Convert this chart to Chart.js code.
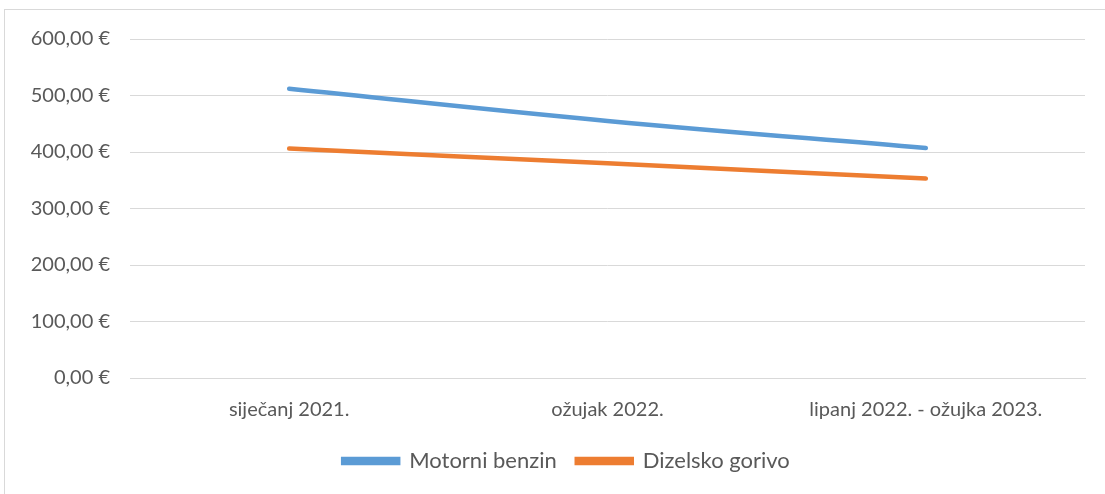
<!DOCTYPE html>
<html>
<head>
<meta charset="utf-8">
<script src="https://cdn.jsdelivr.net/npm/chart.js@4"></script>
<style>
  html, body { margin: 0; padding: 0; background: #fff; }
  #wrap { width: 1105px; height: 494px; }
</style>
</head>
<body>
<div id="wrap"><canvas id="grafik" width="1105" height="494"></canvas></div>
<script>
const CATEGORIES = ['siječanj 2021.', 'ožujak 2022.', 'lipanj 2022. - ožujka 2023.'];
const BENZIN = [512, 455, 407];
const DIZEL = [406, 380, 353];
const Y_TICKS = [0, 100, 200, 300, 400, 500, 600];

const TEXT = '#595959';
const GRID = '#d9d9d9';

// okvir oko grafikona, kao u Excelu
const frame = {
    id: 'frame',
    beforeDraw(chart) {
        const ctx = chart.ctx;
        ctx.save();
        ctx.fillStyle = '#fff';
        ctx.fillRect(0, 0, chart.width, chart.height);
        ctx.strokeStyle = GRID;
        ctx.lineWidth = 1;
        ctx.strokeRect(4.5, 9.5, chart.width + 10, chart.height + 10);
        ctx.restore();
    }
};

// legenda malo udesno
const legendShift = {
    id: 'legendShift',
    afterLayout(chart) {
        chart.legend.left += 22;
        chart.legend.right += 22;
    }
};

Chart.defaults.font.family = 'Lato, "Open Sans", sans-serif';
Chart.defaults.font.size = 20;
Chart.defaults.color = TEXT;

new Chart(document.getElementById('grafik'), {
    type: 'line',
    data: {
        labels: CATEGORIES,
        datasets: [
            {
                label: 'Motorni benzin',
                data: BENZIN,
                borderColor: '#5b9bd5',
                backgroundColor: '#5b9bd5',
                borderWidth: 4.5,
                borderCapStyle: 'round',
                pointRadius: 0,
                tension: 0.4
            },
            {
                label: 'Dizelsko gorivo',
                data: DIZEL,
                borderColor: '#ed7d31',
                backgroundColor: '#ed7d31',
                borderWidth: 4.5,
                borderCapStyle: 'round',
                pointRadius: 0,
                tension: 0.4
            }
        ]
    },
    options: {
        responsive: false,
        animation: false,
        layout: {
            padding: { left: 4, right: 20, top: 39, bottom: 12 }
        },
        scales: {
            x: {
                offset: true,
                afterFit(scale) { scale.height -= 12; },
                grid: { display: false, drawTicks: false },
                border: { color: GRID },
                ticks: { padding: 20, maxRotation: 0 }
            },
            y: {
                min: 0,
                max: 600,
                afterFit(scale) { scale.width = 126; },
                afterBuildTicks(scale) {
                    scale.ticks = Y_TICKS.map(v => ({ value: v }));
                },
                grid: { color: GRID, lineWidth: 1, drawTicks: false },
                border: { display: false },
                ticks: {
                    padding: 20,
                    callback: v => v.toFixed(2).replace('.', ',') + ' €'
                }
            }
        },
        plugins: {
            legend: {
                position: 'bottom',
                labels: {
                    font: { size: 22 },
                    boxWidth: 55,
                    boxHeight: 4,
                    padding: 20
                }
            },
            tooltip: { enabled: false }
        }
    },
    plugins: [frame, legendShift]
});
</script>
</body>
</html>
